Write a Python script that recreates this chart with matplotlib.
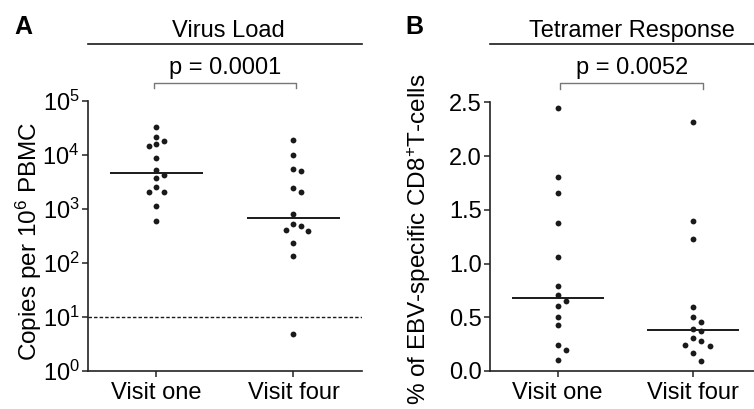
import numpy as np
import matplotlib.pyplot as plt

plt.rcParams['font.family'] = ['Liberation Sans', 'DejaVu Sans']
plt.rcParams['mathtext.fontset'] = 'custom'
plt.rcParams['mathtext.rm'] = 'Liberation Sans'
plt.rcParams['mathtext.it'] = 'Liberation Sans:italic'
plt.rcParams['mathtext.bf'] = 'Liberation Sans:bold'

# data
groups = ['Visit one', 'Visit four']
load_one = [33000, 21800, 18400, 16000, 14700, 8800, 5200, 4200, 3800, 2560, 2050, 2050, 1120, 600]
load_four = [18700, 10000, 5500, 5000, 2400, 2050, 810, 525, 490, 410, 398, 238, 135, 4.9]
detect_limit = 10
tet_one = [2.447, 1.804, 1.655, 1.374, 1.058, 0.795, 0.709, 0.656, 0.603, 0.498, 0.424, 0.238, 0.195, 0.099]
tet_four = [2.314, 1.395, 1.225, 0.600, 0.498, 0.458, 0.393, 0.374, 0.306, 0.275, 0.241, 0.235, 0.164, 0.093]
p_load = 'p = 0.0001'
p_tet = 'p = 0.0052'

dark = '#1a1a1a'
fs = 17


def swarm(ax, xc, vals, gap):
    """greedy beeswarm: spread points sideways when they would overlap (pixel space)"""
    x0 = ax.transData.transform((0, 1))[0]
    x1 = ax.transData.transform((1, 1))[0]
    slot = gap / (x1 - x0)
    placed, xs, ys = [], [], []
    for v in sorted(vals, reverse=True):
        py = ax.transData.transform((xc, v))[1]
        for k in [0, 1, -1, 2, -2, 3, -3]:
            px = k * gap
            if all(np.hypot(px - qx, py - qy) >= gap * 0.93 for qx, qy in placed):
                break
        placed.append((px, py))
        xs.append(xc + k * slot)
        ys.append(v)
    ax.plot(xs, ys, 'o', color=dark, ms=4.2, mew=0, clip_on=False, zorder=3)


def style(ax):
    for s in ['top', 'right']:
        ax.spines[s].set_visible(False)
    for s in ['left', 'bottom']:
        ax.spines[s].set_linewidth(1.2)
        ax.spines[s].set_color('#222222')
    ax.set_xlim(-0.5, 1.5)
    ax.set_xticks([0, 1])
    ax.set_xticklabels(groups)
    ax.tick_params(axis='both', length=4, width=1.1, color='#222222', labelsize=fs)
    ax.tick_params(axis='x', pad=4)
    ax.tick_params(axis='y', pad=2)
    ax.minorticks_off()


def bracket(ax, x0, x1, y, drop, text):
    tr = ax.get_xaxis_transform()
    ax.plot([x0, x0, x1, x1], [y - drop, y, y, y - drop], color='#777777', lw=1,
            transform=tr, clip_on=False)
    ax.text((x0 + x1) / 2, y + 0.035, text, transform=tr, ha='center', va='baseline', fontsize=fs)


fig = plt.figure(figsize=(7.54, 4.09), dpi=100)

# ---- A: virus load
axA = fig.add_axes([0.1167, 0.093, 0.3634, 0.660])
axA.set_yscale('log')
axA.set_ylim(1, 1e5)
style(axA)
axA.set_yticks([1, 10, 100, 1e3, 1e4, 1e5])
axA.axhline(detect_limit, color=dark, lw=1, ls=(0, (2.5, 1.5)))
for i, vals in enumerate([load_one, load_four]):
    swarm(axA, i, vals, 7.4)
    axA.hlines(np.median(vals), i - 0.34, i + 0.34, color=dark, lw=1.4)
axA.set_ylabel('Copies per 10$^6$ PBMC', fontsize=17.5, va='center')
axA.yaxis.set_label_coords(-0.215, 0.478)
axA.plot([0, 1], [1.21, 1.21], color=dark, lw=1.2, transform=axA.transAxes, clip_on=False)
axA.text(0.511, 1.238, 'Virus Load', transform=axA.transAxes, ha='center', va='baseline', fontsize=fs)
bracket(axA, -0.015, 1.015, 1.066, 0.018, p_load)

# ---- B: tetramer response
axB = fig.add_axes([0.6499, 0.093, 0.359, 0.6565])
axB.set_ylim(0, 2.5)
style(axB)
axB.set_yticks(np.arange(0, 2.51, 0.5))
axB.set_yticklabels(['%.1f' % t for t in np.arange(0, 2.51, 0.5)])
for i, vals in enumerate([tet_one, tet_four]):
    swarm(axB, i, vals, 8.3)
    axB.hlines(np.median(vals), i - 0.34, i + 0.34, color=dark, lw=1.4)
axB.set_ylabel('% of EBV-specific CD8$^{+}$T-cells', fontsize=17.5, va='center')
axB.yaxis.set_label_coords(-0.262, 0.49)
axB.plot([0, 1], [1.217, 1.217], color=dark, lw=1.2, transform=axB.transAxes, clip_on=False)
axB.text(0.523, 1.245, 'Tetramer Response', transform=axB.transAxes, ha='center', va='baseline', fontsize=fs)
bracket(axB, 0.02, 1.074, 1.0715, 0.02, p_tet)

fig.text(0.0186, 0.916, 'A', fontsize=18, fontweight='bold', va='baseline')
fig.text(0.537, 0.918, 'B', fontsize=18, fontweight='bold', va='baseline')

fig.savefig('out.png', dpi=100)
